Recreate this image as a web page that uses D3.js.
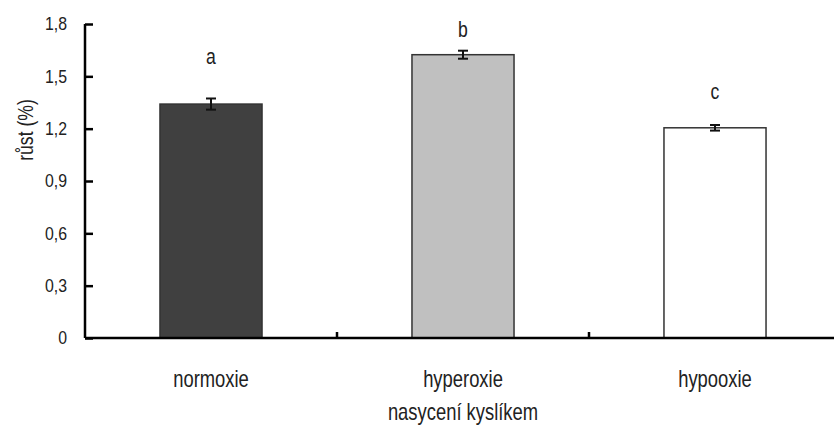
<!DOCTYPE html>
<html>
<head>
	<meta charset="utf-8">
	<title>růst</title>
	<script src="https://d3js.org/d3.v7.min.js"></script>
	<style>
		body { margin: 0; background: #fff; }
		text { font-family: "Liberation Sans", Arial, sans-serif; fill: #222; }
	</style>
</head>
<body>
	<div id="chart"></div>
	<script>
		// data
		var categories = ["normoxie", "hyperoxie", "hypooxie"];
		var growth = [1.341, 1.624, 1.205];
		var errors = [0.032, 0.023, 0.016];
		var letters = ["a", "b", "c"];
		var letterHeights = [1.571, 1.725, 1.37];
		var fills = ["#404040", "#c0c0c0", "#ffffff"];
		var yTicks = [0, 0.3, 0.6, 0.9, 1.2, 1.5, 1.8];

		var W = 834, H = 425;
		var margin = {top: 24, left: 85};
		var plotH = 314;
		var plotW = 756;
		var squeeze = 0.8; // the original font is a narrow one

		var svg = d3.select("#chart").append("svg")
			.attr("width", W)
			.attr("height", H);

		var g = svg.append("g")
			.attr("transform", "translate(" + margin.left + "," + margin.top + ")");

		var x = d3.scaleBand().domain(categories).range([0, plotW]).paddingInner(0.595).paddingOuter(0.2975);
		var y = d3.scaleLinear().domain([0, 1.8]).range([plotH, 0]);
		var cx = function(d) { return x(d) + x.bandwidth() / 2; };

		// narrow text: place with translate, then squeeze horizontally
		function narrow(sel, px, py) {
			return sel.attr("transform", function(d, i) {
				return "translate(" + px(d, i) + "," + py(d, i) + ") scale(" + squeeze + ",1)";
			});
		}

		// bars
		g.selectAll(".bar")
			.data(categories)
			.enter().append("rect")
			.attr("class", "bar")
			.attr("x", function(d) { return x(d); })
			.attr("y", function(d, i) { return y(growth[i]); })
			.attr("width", x.bandwidth())
			.attr("height", function(d, i) { return plotH - y(growth[i]); })
			.style("fill", function(d, i) { return fills[i]; })
			.style("stroke", "#333")
			.style("stroke-width", 1.5);

		// error bars
		var eb = g.selectAll(".err")
			.data(categories)
			.enter().append("g")
			.attr("class", "err")
			.style("stroke", "#111")
			.style("stroke-width", 2);
		eb.append("line")
			.attr("x1", cx).attr("x2", cx)
			.attr("y1", function(d, i) { return y(growth[i] + errors[i]); })
			.attr("y2", function(d, i) { return y(growth[i] - errors[i]); });
		eb.append("line")
			.attr("x1", function(d) { return cx(d) - 5; }).attr("x2", function(d) { return cx(d) + 5; })
			.attr("y1", function(d, i) { return y(growth[i] + errors[i]); })
			.attr("y2", function(d, i) { return y(growth[i] + errors[i]); });
		eb.append("line")
			.attr("x1", function(d) { return cx(d) - 5; }).attr("x2", function(d) { return cx(d) + 5; })
			.attr("y1", function(d, i) { return y(growth[i] - errors[i]); })
			.attr("y2", function(d, i) { return y(growth[i] - errors[i]); });

		// significance letters
		narrow(g.selectAll(".letter")
			.data(categories)
			.enter().append("text")
			.attr("class", "letter")
			.attr("text-anchor", "middle")
			.style("font-size", "22px")
			.text(function(d, i) { return letters[i]; }),
			cx, function(d, i) { return y(letterHeights[i]); });

		// y axis
		var yAxis = g.append("g")
			.call(d3.axisLeft(y).tickValues(yTicks).tickSize(-8).tickPadding(18)
				.tickFormat(function(d) { return d === 0 ? "0" : d3.format(".1f")(d).replace(".", ","); }));
		yAxis.select(".domain").remove();
		yAxis.append("line")
			.attr("x1", 0).attr("x2", 0)
			.attr("y1", 0).attr("y2", plotH)
			.style("stroke", "#000").style("stroke-width", 2.5);
		yAxis.selectAll(".tick line").style("stroke", "#000").style("stroke-width", 2.5);
		yAxis.selectAll(".tick text")
			.attr("x", -18 / 0.88)
			.attr("transform", "scale(0.88,1)")
			.style("font-size", "18px")
			.style("fill", "#222");

		// x axis
		var xAxis = g.append("g").attr("transform", "translate(0," + plotH + ")");
		xAxis.append("line")
			.attr("x1", 0).attr("x2", plotW)
			.style("stroke", "#000").style("stroke-width", 2.5);
		var sepX = function(d) { return x(d) - x.step() * x.paddingInner() / 2; };
		xAxis.selectAll(".sep")
			.data(categories.slice(1))
			.enter().append("line")
			.attr("class", "sep")
			.attr("x1", sepX).attr("x2", sepX)
			.attr("y1", 0).attr("y2", -6)
			.style("stroke", "#000").style("stroke-width", 2.5);
		narrow(xAxis.selectAll(".cat")
			.data(categories)
			.enter().append("text")
			.attr("class", "cat")
			.attr("text-anchor", "middle")
			.style("font-size", "23px")
			.text(function(d) { return d; }),
			cx, function() { return 49; });

		// axis titles
		svg.append("text")
			.attr("transform", "translate(" + (margin.left + cx(categories[1])) + ",420) scale(" + squeeze + ",1)")
			.attr("text-anchor", "middle")
			.style("font-size", "23px")
			.text("nasycení kyslíkem");

		svg.append("text")
			.attr("transform", "translate(33,130) rotate(-90) scale(" + squeeze + ",1)")
			.attr("text-anchor", "middle")
			.style("font-size", "22px")
			.text("růst (%)");
	</script>
</body>
</html>
